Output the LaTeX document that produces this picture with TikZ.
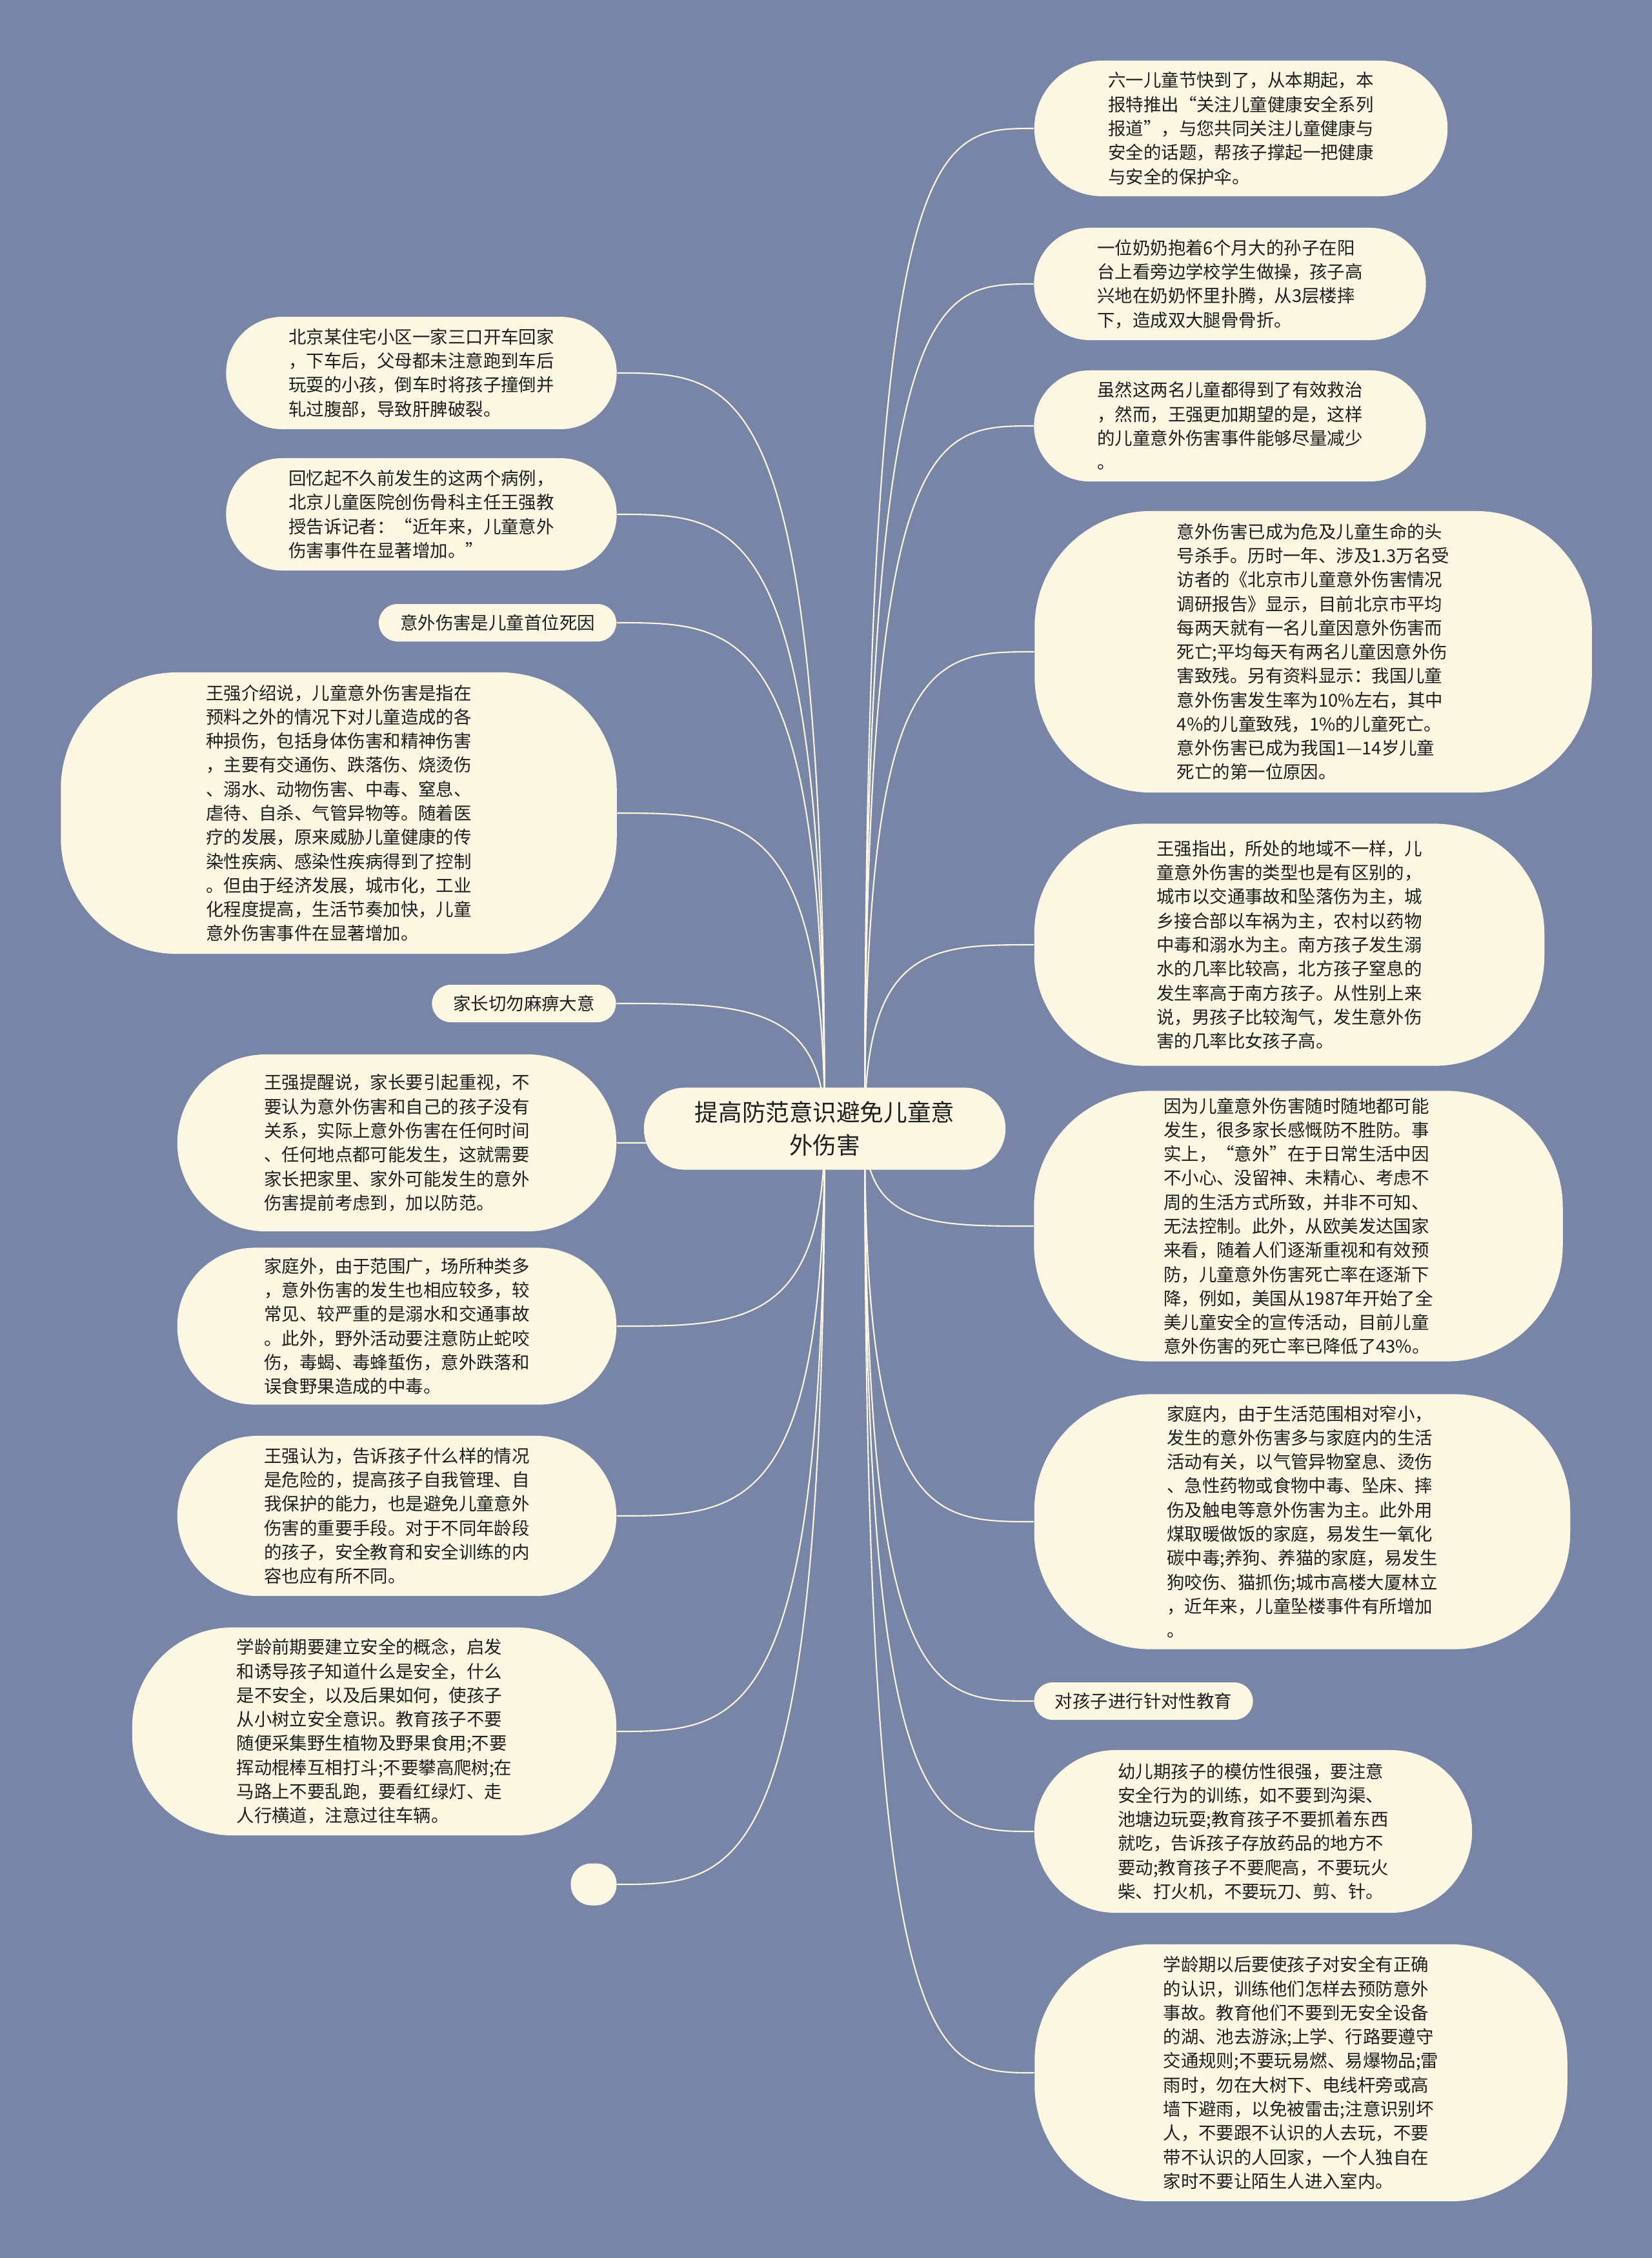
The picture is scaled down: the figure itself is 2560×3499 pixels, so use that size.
\documentclass[tikz,border=0pt]{standalone}
\usepackage{fontspec}
\newfontfamily\cjk{Noto Sans CJK SC}
\usetikzlibrary{calc}
\definecolor{slate}{RGB}{121,133,166}
\definecolor{cream}{RGB}{251,247,227}
\pgfdeclarelayer{back}
\pgfsetlayers{back,main}

\begin{document}
\begin{tikzpicture}[x=0.01cm, y=-0.01cm,
  box/.style={fill=cream, inner sep=0pt, align=left, text=black!88,
    font=\cjk\fontsize{7.8pt}{10.6pt}\selectfont},
  tag/.style={box, minimum height=0.58cm, rounded corners=0.29cm},
  title/.style={box, align=center, font=\cjk\fontsize{10.4pt}{14.5pt}\selectfont},
  link/.style={draw=cream, line width=0.6pt}]

  % Central topic
  \node[title, minimum width=5.60cm, minimum height=1.27cm, rounded corners=0.63cm] (ctr) at (1278,1749)
    {提高防范意识避免儿童意\\外伤害};
  \coordinate (hubL) at (ctr.center);
  \coordinate (hubR) at ($(ctr.center)+(62,0)$);

  % Right branch
  \node[box, minimum width=6.40cm, minimum height=2.10cm, rounded corners=1.05cm] (r1) at (1923,199)
    {六一儿童节快到了，从本期起，本\\报特推出“关注儿童健康安全系列\\报道”，与您共同关注儿童健康与\\安全的话题，帮孩子撑起一把健康\\与安全的保护伞。};
  \node[box, minimum width=6.07cm, minimum height=1.74cm, rounded corners=0.87cm] (r2) at (1906,440)
    {一位奶奶抱着6个月大的孙子在阳\\台上看旁边学校学生做操，孩子高\\兴地在奶奶怀里扑腾，从3层楼摔\\下，造成双大腿骨骨折。};
  \node[box, minimum width=6.07cm, minimum height=1.72cm, rounded corners=0.86cm] (r3) at (1906,660)
    {虽然这两名儿童都得到了有效救治\\，然而，王强更加期望的是，这样\\的儿童意外伤害事件能够尽量减少\\。};
  \node[box, minimum width=8.63cm, minimum height=4.36cm, rounded corners=1.8cm] (r4) at (2035,1010)
    {意外伤害已成为危及儿童生命的头\\号杀手。历时一年、涉及1.3万名受\\访者的《北京市儿童意外伤害情况\\调研报告》显示，目前北京市平均\\每两天就有一名儿童因意外伤害而\\死亡;平均每天有两名儿童因意外伤\\害致残。另有资料显示：我国儿童\\意外伤害发生率为10\%左右，其中\\4\%的儿童致残，1\%的儿童死亡。\\意外伤害已成为我国1—14岁儿童\\死亡的第一位原因。};
  \node[box, minimum width=7.90cm, minimum height=3.75cm, rounded corners=1.7cm] (r5) at (1998,1464)
    {王强指出，所处的地域不一样，儿\\童意外伤害的类型也是有区别的，\\城市以交通事故和坠落伤为主，城\\乡接合部以车祸为主，农村以药物\\中毒和溺水为主。南方孩子发生溺\\水的几率比较高，北方孩子窒息的\\发生率高于南方孩子。从性别上来\\说，男孩子比较淘气，发生意外伤\\害的几率比女孩子高。};
  \node[box, minimum width=8.19cm, minimum height=4.19cm, rounded corners=1.8cm] (r6) at (2012,1900)
    {因为儿童意外伤害随时随地都可能\\发生，很多家长感慨防不胜防。事\\实上，“意外”在于日常生活中因\\不小心、没留神、未精心、考虑不\\周的生活方式所致，并非不可知、\\无法控制。此外，从欧美发达国家\\来看，随着人们逐渐重视和有效预\\防，儿童意外伤害死亡率在逐渐下\\降，例如，美国从1987年开始了全\\美儿童安全的宣传活动，目前儿童\\意外伤害的死亡率已降低了43\%。};
  \node[box, minimum width=8.30cm, minimum height=3.95cm, rounded corners=1.8cm] (r7) at (2018,2358)
    {家庭内，由于生活范围相对窄小，\\发生的意外伤害多与家庭内的生活\\活动有关，以气管异物窒息、烫伤\\、急性药物或食物中毒、坠床、摔\\伤及触电等意外伤害为主。此外用\\煤取暖做饭的家庭，易发生一氧化\\碳中毒;养狗、养猫的家庭，易发生\\狗咬伤、猫抓伤;城市高楼大厦林立\\，近年来，儿童坠楼事件有所增加\\。};
  \node[tag, minimum width=3.39cm] (r8) at (1772,2636) {对孩子进行针对性教育};
  \node[box, minimum width=6.78cm, minimum height=2.52cm, rounded corners=1.26cm] (r9) at (1942,2838)
    {幼儿期孩子的模仿性很强，要注意\\安全行为的训练，如不要到沟渠、\\池塘边玩耍;教育孩子不要抓着东西\\就吃，告诉孩子存放药品的地方不\\要动;教育孩子不要爬高，不要玩火\\柴、打火机，不要玩刀、剪、针。};
  \node[box, minimum width=8.25cm, minimum height=3.98cm, rounded corners=1.8cm] (r10) at (2016,3212)
    {学龄期以后要使孩子对安全有正确\\的认识，训练他们怎样去预防意外\\事故。教育他们不要到无安全设备\\的湖、池去游泳;上学、行路要遵守\\交通规则;不要玩易燃、易爆物品;雷\\雨时，勿在大树下、电线杆旁或高\\墙下避雨，以免被雷击;注意识别坏\\人，不要跟不认识的人去玩，不要\\带不认识的人回家，一个人独自在\\家时不要让陌生人进入室内。};

  % Left branch
  \node[box, minimum width=6.05cm, minimum height=1.74cm, rounded corners=0.87cm] (l1) at (653,578)
    {北京某住宅小区一家三口开车回家\\，下车后，父母都未注意跑到车后\\玩耍的小孩，倒车时将孩子撞倒并\\轧过腹部，导致肝脾破裂。};
  \node[box, minimum width=6.05cm, minimum height=1.74cm, rounded corners=0.87cm] (l2) at (653,797)
    {回忆起不久前发生的这两个病例，\\北京儿童医院创伤骨科主任王强教\\授告诉记者：“近年来，儿童意外\\伤害事件在显著增加。”};
  \node[tag, minimum width=3.68cm] (l3) at (771,965) {意外伤害是儿童首位死因};
  \node[box, minimum width=8.61cm, minimum height=4.36cm, rounded corners=1.8cm] (l4) at (525,1260)
    {王强介绍说，儿童意外伤害是指在\\预料之外的情况下对儿童造成的各\\种损伤，包括身体伤害和精神伤害\\，主要有交通伤、跌落伤、烧烫伤\\、溺水、动物伤害、中毒、窒息、\\虐待、自杀、气管异物等。随着医\\疗的发展，原来威胁儿童健康的传\\染性疾病、感染性疾病得到了控制\\。但由于经济发展，城市化，工业\\化程度提高，生活节奏加快，儿童\\意外伤害事件在显著增加。};
  \node[tag, minimum width=2.85cm] (l5) at (812,1555) {家长切勿麻痹大意};
  \node[box, minimum width=6.80cm, minimum height=2.74cm, rounded corners=1.37cm] (l6) at (615,1771)
    {王强提醒说，家长要引起重视，不\\要认为意外伤害和自己的孩子没有\\关系，实际上意外伤害在任何时间\\、任何地点都可能发生，这就需要\\家长把家里、家外可能发生的意外\\伤害提前考虑到，加以防范。};
  \node[box, minimum width=6.80cm, minimum height=2.43cm, rounded corners=1.2cm] (l7) at (615,2055)
    {家庭外，由于范围广，场所种类多\\，意外伤害的发生也相应较多，较\\常见、较严重的是溺水和交通事故\\。此外，野外活动要注意防止蛇咬\\伤，毒蝎、毒蜂蜇伤，意外跌落和\\误食野果造成的中毒。};
  \node[box, minimum width=6.80cm, minimum height=2.48cm, rounded corners=1.24cm] (l8) at (615,2349)
    {王强认为，告诉孩子什么样的情况\\是危险的，提高孩子自我管理、自\\我保护的能力，也是避免儿童意外\\伤害的重要手段。对于不同年龄段\\的孩子，安全教育和安全训练的内\\容也应有所不同。};
  \node[box, minimum width=7.50cm, minimum height=3.22cm, rounded corners=1.55cm] (l9) at (580,2683)
    {学龄前期要建立安全的概念，启发\\和诱导孩子知道什么是安全，什么\\是不安全，以及后果如何，使孩子\\从小树立安全意识。教育孩子不要\\随便采集野生植物及野果食用;不要\\挥动棍棒互相打斗;不要攀高爬树;在\\马路上不要乱跑，要看红绿灯、走\\人行横道，注意过往车辆。};
  \node[box, minimum width=0.71cm, minimum height=0.65cm, rounded corners=0.32cm] (l10) at (920,2920) {};

  % Background and connectors
  \begin{pgfonlayer}{back}
    \fill[slate] (0,0) rectangle (2560,3499);
    \foreach \n in {r1,r2,r3,r4,r5,r6,r7,r8,r9,r10}
      \draw[link] (hubR) .. controls (hubR |- \n.west) and ($(hubR |- \n.west)!.4!(\n.west)$) .. (\n.west);
    \foreach \n in {l1,l2,l3,l4,l5,l6,l7,l8,l9,l10}
      \draw[link] (hubL) .. controls (hubL |- \n.east) and ($(hubL |- \n.east)!.4!(\n.east)$) .. (\n.east);
  \end{pgfonlayer}
\end{tikzpicture}
\end{document}
